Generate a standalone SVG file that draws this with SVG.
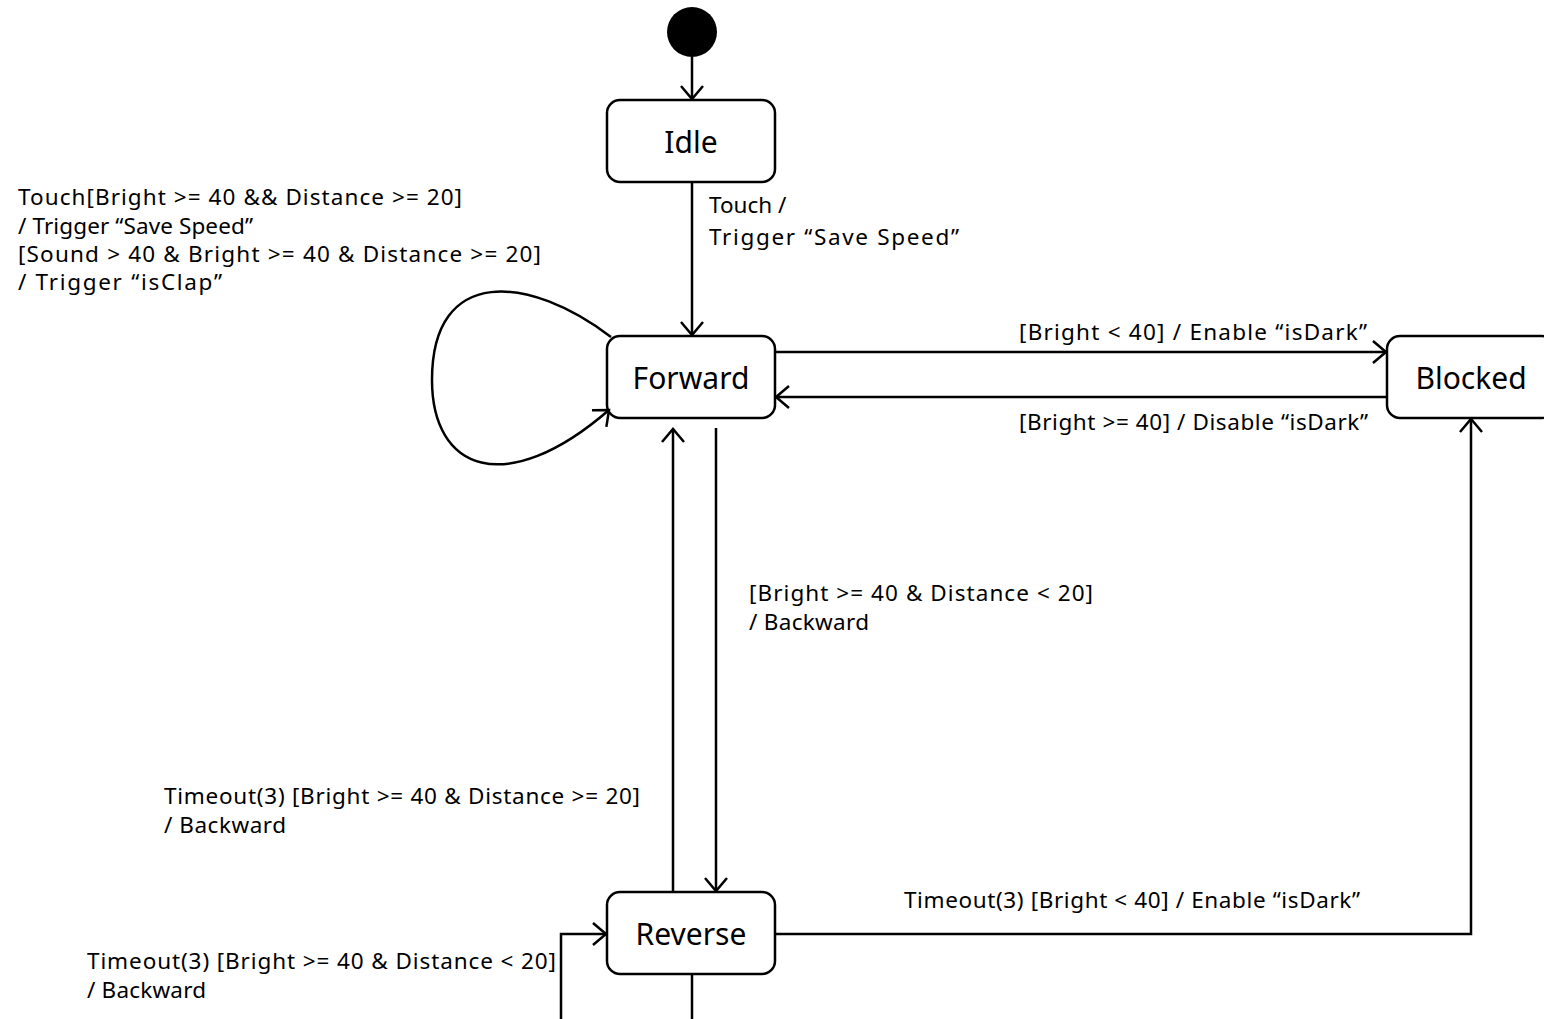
<svg xmlns="http://www.w3.org/2000/svg" width="1544" height="1019" viewBox="0 0 1544 1019">
  <style>
    .state rect { fill: #fff; stroke: #000; stroke-width: 2.5; }
    .state text { font-family: "Noto Sans", "Open Sans", sans-serif; font-size: 30px; fill: #000; text-anchor: middle; }
    .edges path { fill: none; stroke: #000; stroke-width: 2.5; }
    .lbl { font-family: "Noto Sans", "Open Sans", sans-serif; font-size: 22.5px; fill: #000; }
  </style>
  <defs>
    <marker id="open" markerUnits="userSpaceOnUse" markerWidth="26" markerHeight="26" viewBox="-15 -13 18 26" refX="0" refY="0" orient="auto">
      <path d="M -13 -11 L 0 0 L -13 11" fill="none" stroke="#000" stroke-width="2.5"/>
    </marker>
  </defs>
  <rect width="1544" height="1019" fill="#fff"/>

  <!-- initial pseudostate -->
  <g id="initial"><circle cx="692" cy="32" r="25" fill="#000"/></g>

  <g id="idle" class="state"><rect x="607" y="100" width="168" height="82" rx="13"/><text x="691" y="153">Idle</text></g>
  <g id="forward" class="state"><rect x="607" y="336" width="168" height="82" rx="13"/><text x="691" y="389">Forward</text></g>
  <g id="blocked" class="state"><rect x="1387" y="336" width="168" height="82" rx="13"/><text x="1471" y="389">Blocked</text></g>
  <g id="reverse" class="state"><rect x="607" y="892" width="168" height="82" rx="13"/><text x="691" y="945">Reverse</text></g>

  <g id="edges" class="edges">
    <path d="M 692 57 L 692 99" marker-end="url(#open)"/>
    <path d="M 692 182 L 692 335" marker-end="url(#open)"/>
    <path d="M 611 337 C 530 275 432 265 432 380 C 432 470 505 500 609 410" marker-end="url(#open)"/>
    <path d="M 775 352 L 1386 352" marker-end="url(#open)"/>
    <path d="M 1387 397 L 776 397" marker-end="url(#open)"/>
    <path d="M 716 428 L 716 891" marker-end="url(#open)"/>
    <path d="M 673 892 L 673 429" marker-end="url(#open)"/>
    <path d="M 775 934 L 1471 934 L 1471 419" marker-end="url(#open)"/>
    <path d="M 692 974 L 692 1025"/>
    <path d="M 561 1025 L 561 934 L 606 934" marker-end="url(#open)"/>
  </g>

  <g id="labels">
    <text class="lbl" x="709" y="213">Touch /</text>
    <text class="lbl" x="709" y="245" textLength="250" lengthAdjust="spacing">Trigger “Save Speed”</text>
    <text class="lbl" x="18" y="205" textLength="444" lengthAdjust="spacing">Touch[Bright &gt;= 40 &amp;&amp; Distance &gt;= 20]</text>
    <text class="lbl" x="18" y="234" textLength="235" lengthAdjust="spacing">/ Trigger “Save Speed”</text>
    <text class="lbl" x="18" y="262" textLength="523" lengthAdjust="spacing">[Sound &gt; 40 &amp; Bright &gt;= 40 &amp; Distance &gt;= 20]</text>
    <text class="lbl" x="18" y="290" textLength="204" lengthAdjust="spacing">/ Trigger “isClap”</text>
    <text class="lbl" x="1019" y="340" textLength="348" lengthAdjust="spacing">[Bright &lt; 40] / Enable “isDark”</text>
    <text class="lbl" x="1019" y="430" textLength="349" lengthAdjust="spacing">[Bright &gt;= 40] / Disable “isDark”</text>
    <text class="lbl" x="749" y="601" textLength="344" lengthAdjust="spacing">[Bright &gt;= 40 &amp; Distance &lt; 20]</text>
    <text class="lbl" x="749" y="630" textLength="120" lengthAdjust="spacing">/ Backward</text>
    <text class="lbl" x="164" y="804" textLength="476" lengthAdjust="spacing">Timeout(3) [Bright &gt;= 40 &amp; Distance &gt;= 20]</text>
    <text class="lbl" x="164" y="833" textLength="122" lengthAdjust="spacing">/ Backward</text>
    <text class="lbl" x="904" y="908" textLength="456" lengthAdjust="spacing">Timeout(3) [Bright &lt; 40] / Enable “isDark”</text>
    <text class="lbl" x="87" y="969" textLength="469" lengthAdjust="spacing">Timeout(3) [Bright &gt;= 40 &amp; Distance &lt; 20]</text>
    <text class="lbl" x="87" y="998" textLength="119" lengthAdjust="spacing">/ Backward</text>
  </g>
</svg>
